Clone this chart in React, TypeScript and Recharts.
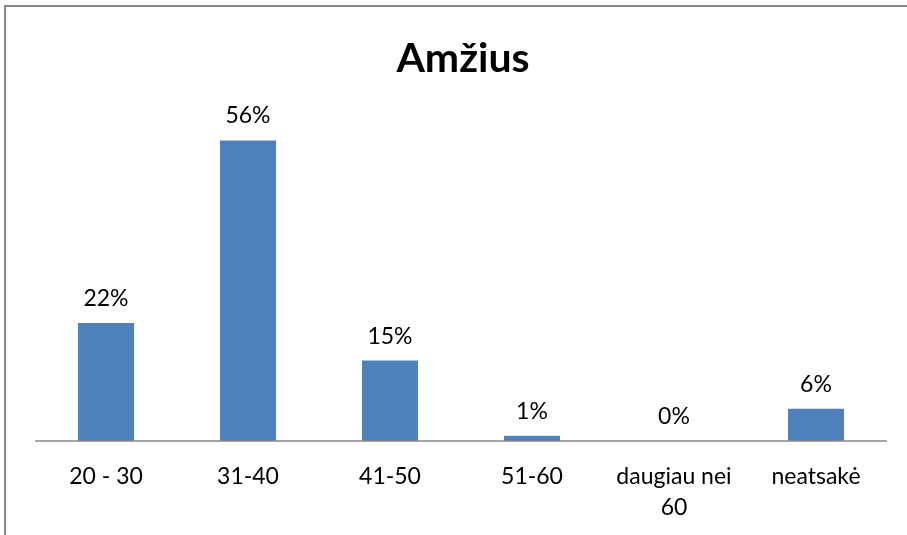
import React from 'react';
import { ComposedChart, Bar, Line, XAxis, YAxis, LabelList } from 'recharts';

// Amžius – respondentų pasiskirstymas (%)
const categories = ['20 - 30', '31-40', '41-50', '51-60', 'daugiau nei 60', 'neatsakė'];
const shares = [22, 56, 15, 1, 0, 6];
const yDomain = [0, 60];

const data = categories.map((name, i) => ({ name, value: shares[i] }));

const FONT = 'Lato, "Open Sans", sans-serif';
const BAR_COLOR = '#4F81BD';

// paprastas žodžių laužymas pagal apytikslį simbolio plotį
function wrap(label: string, maxWidth: number, fontSize: number): string[] {
  const words = label.split(' ');
  const lines: string[] = [];
  let cur = '';
  for (const w of words) {
    const next = cur ? cur + ' ' + w : w;
    if (cur && next.length * fontSize * 0.5 > maxWidth) {
      lines.push(cur);
      cur = w;
    } else {
      cur = next;
    }
  }
  if (cur) lines.push(cur);
  return lines;
}

const CategoryTick = (props: any) => {
  const { x, y, payload } = props;
  const lines = wrap(String(payload.value), 135, 24);
  return (
    <text x={x} y={y + 43} textAnchor="middle" fontSize={23} fontFamily={FONT} fill="#000">
      {lines.map((ln, i) => (
        <tspan key={i} x={x} dy={i === 0 ? 0 : 31}>
          {ln}
        </tspan>
      ))}
    </text>
  );
};

export default function App() {
  // rėmelis: tik kairė ir viršutinė kraštinės matomos kadre
  return (
    <div
      style={{
        position: 'fixed',
        left: 4,
        top: 5,
        width: 960,
        height: 600,
        borderLeft: '2px solid #878787',
        borderTop: '2px solid #878787',
      }}
    >
      <div
        style={{
          position: 'absolute',
          left: -6,
          width: 926,
          top: 26,
          textAlign: 'center',
          fontFamily: FONT,
          fontWeight: 700,
          fontSize: 41,
          lineHeight: '48px',
          color: '#000',
        }}
      >
        Amžius
      </div>
      <div style={{ position: 'absolute', left: -6, top: -7 }}>
        <ComposedChart width={907} height={535} data={data} margin={{ top: 119, right: 20, bottom: 64, left: 35 }}>
          <XAxis
            dataKey="name"
            axisLine={{ stroke: '#878787', strokeWidth: 1.5 }}
            tickLine={false}
            tickSize={0}
            tickMargin={0}
            interval={0}
            tick={<CategoryTick />}
          />
          <YAxis hide domain={yDomain} />
          <Bar dataKey="value" fill={BAR_COLOR} barSize={56} isAnimationActive={false} />
          {/* nematoma linija tik etiketėms, kad matytųsi ir 0% */}
          <Line dataKey="value" stroke="none" dot={false} activeDot={false} isAnimationActive={false}>
            <LabelList
              dataKey="value"
              position="top"
              offset={17}
              formatter={(v: any) => `${v}%`}
              style={{ fontSize: 23, fontFamily: FONT, fill: '#000' }}
            />
          </Line>
        </ComposedChart>
      </div>
    </div>
  );
}
